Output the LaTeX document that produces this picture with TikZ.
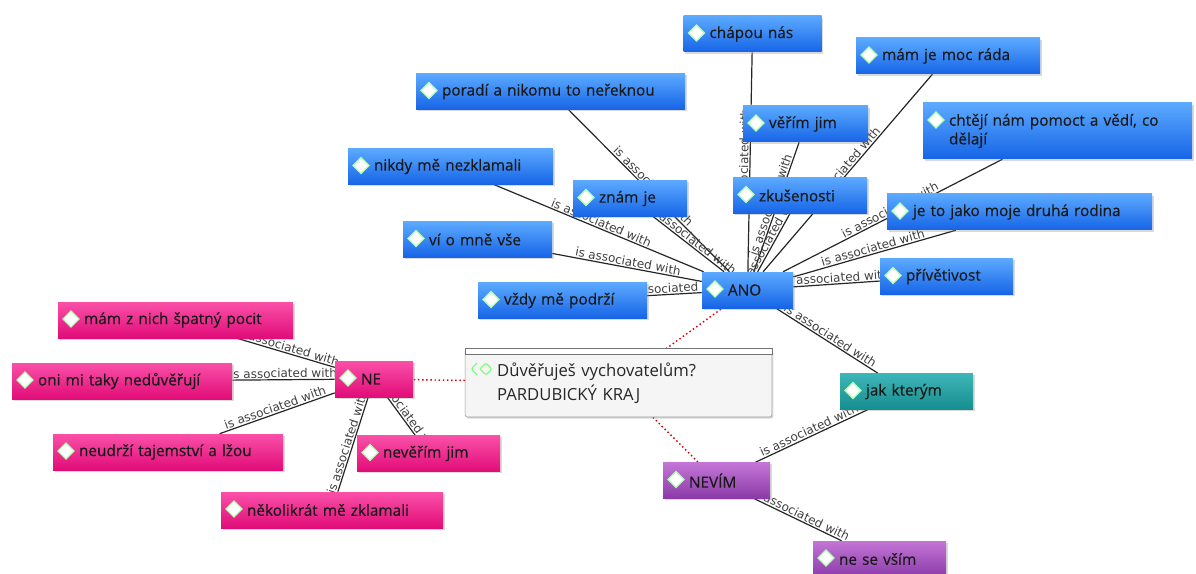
\documentclass[tikz,border=0pt]{standalone}
\usepackage{fontspec}
\setmainfont{Open Sans}
\newfontfamily\codefont{Open Sans}[FakeBold=0.4]
\newfontfamily\linkfont{DejaVu Sans}
\usetikzlibrary{backgrounds,shadows}

\definecolor{anotop}{RGB}{92,170,255}
\definecolor{anobot}{RGB}{22,100,230}
\definecolor{netop}{RGB}{250,80,168}
\definecolor{nebot}{RGB}{225,12,120}
\definecolor{jaktop}{RGB}{62,182,184}
\definecolor{jakbot}{RGB}{22,142,144}
\definecolor{nevimtop}{RGB}{196,118,214}
\definecolor{nevimbot}{RGB}{138,58,168}

\tikzset{
	codebox/.style={rectangle, inner xsep=19.5pt, inner ysep=2pt, minimum height=27pt,
		align=left, text width=#1, font=\codefont\fontsize{11.5}{14}\selectfont, text=black!90,
		drop shadow={opacity=0.3, shadow xshift=1.2pt, shadow yshift=-1.2pt},
		path picture={\draw[fill=white, draw=green!30!white, line width=0.9pt]
			([xshift=9.75pt,yshift=-12.75pt]path picture bounding box.north west)
			+(-6pt,0pt) -- +(0pt,6pt) -- +(6pt,0pt) -- +(0pt,-6pt) -- cycle;}},
	anobox/.style={codebox=#1, top color=anotop, bottom color=anobot},
	nebox/.style={codebox=#1, top color=netop, bottom color=nebot},
	jakbox/.style={codebox=#1, top color=jaktop, bottom color=jakbot},
	nevimbox/.style={codebox=#1, top color=nevimtop, bottom color=nevimbot},
	quotebox/.style={rectangle, draw=black!40, fill=black!4, rounded corners=1.5pt,
		inner xsep=24pt, inner ysep=4pt, minimum height=51pt, text width=182pt,
		align=left, font=\fontsize{12.5}{18}\selectfont, text=black!85,
		drop shadow={opacity=0.3, shadow xshift=1.2pt, shadow yshift=-1.2pt},
		path picture={\draw[draw=green!55!white, line width=0.8pt]
			([xshift=11pt,yshift=-15pt]path picture bounding box.north west)
			+(-2pt,-4.5pt) -- +(-6.5pt,0pt) -- +(-2pt,4.5pt)
			+(0pt,0pt) -- +(4.5pt,4.5pt) -- +(9pt,0pt) -- +(4.5pt,-4.5pt) -- cycle;}},
	assoc/.style={draw=black!85, line width=0.9pt},
	assoclabel/.style={sloped, above, inner sep=0.8pt, text=black!75,
		font=\linkfont\fontsize{9}{10}\selectfont},
	dotlink/.style={draw=red!85!black, dotted, line width=1.1pt}
}

\begin{document}
\begin{tikzpicture}[x=0.75pt, y=-0.75pt]
	\useasboundingbox (0,0) rectangle (1196,574);

	% ANO
	\node[anobox=29.25pt]	(ano)			at (747.5,290)		{ANO};
	\node[anobox=64.5pt]	(chapou)		at (752.5,34)		{chápou nás};
	\node[anobox=162.75pt]	(poradi)		at (550.5,91.5)		{poradí a nikomu to neřeknou};
	\node[anobox=99pt]		(mam)			at (948,56)			{mám je moc ráda};
	\node[anobox=54.75pt]	(verim)			at (805.5,124)		{věřím jim};
	\node[anobox=162.75pt, minimum height=42pt]
							(chteji)		at (1057.5,131)		{chtějí nám pomoct a vědí, co\\dělají};
	\node[anobox=114.75pt]	(nikdy)			at (450.5,166.5)	{nikdy mě nezklamali};
	\node[anobox=46.5pt]	(znam)			at (630,198.5)		{znám je};
	\node[anobox=61.5pt]	(zkusenosti)	at (800,195.5)		{zkušenosti};
	\node[anobox=159.75pt]	(rodina)		at (1019.5,212)		{je to jako moje druhá rodina};
	\node[anobox=72.75pt]	(vi)			at (477.5,239.5)	{ví o mně vše};
	\node[anobox=87.75pt]	(vzdy)			at (562.5,300.5)	{vždy mě podrží};
	\node[anobox=60.75pt]	(privetivost)	at (946.5,276.5)	{přívětivost};

	% NE
	\node[nebox=19.5pt]		(ne)			at (374,379)		{NE};
	\node[nebox=137.25pt]	(pocit)			at (175.5,320)		{mám z nich špatný pocit};
	\node[nebox=126pt]		(oni)			at (122,381)		{oni mi taky nedůvěřují};
	\node[nebox=133.5pt]	(lzou)			at (168,452)		{neudrží tajemství a lžou};
	\node[nebox=68.25pt]	(neverim)		at (428.5,453.5)	{nevěřím jim};
	\node[nebox=127.5pt]	(zklamali)		at (332,510)		{několikrát mě zklamali};

	% NEVIM
	\node[jakbox=60.75pt]	(jak)			at (906.5,391.5)	{jak kterým};
	\node[nevimbox=41.25pt]	(nevim)			at (716.5,480.5)	{NEVÍM};
	\node[nevimbox=60.75pt]	(vsim)			at (879.5,559)		{ne se vším};

	% otazka
	\node[quotebox]			(quest)			at (618.5,383)		{Důvěřuješ vychovatelům?\\PARDUBICKÝ KRAJ};
	\draw[fill=white, draw=black!55] (quest.north west) rectangle ([yshift=-4.5pt]quest.north east);

	\begin{scope}[on background layer]
	\path
		(ano) edge[assoc]	node[assoclabel]	{is associated with}	(chapou)
		(ano) edge[assoc]	node[assoclabel]	{is associated with}	(poradi)
		(ano) edge[assoc]	node[assoclabel]	{is associated with}	(mam)
		(ano) edge[assoc]	node[assoclabel]	{is associated with}	(verim)
		(ano) edge[assoc]	node[assoclabel]	{is associated with}	(chteji)
		(ano) edge[assoc]	node[assoclabel]	{is associated with}	(nikdy)
		(ano) edge[assoc]	node[assoclabel]	{is associated with}	(znam)
		(ano) edge[assoc]	node[assoclabel]	{is associated with}	(zkusenosti)
		(ano) edge[assoc]	node[assoclabel]	{is associated with}	(rodina)
		(ano) edge[assoc]	node[assoclabel]	{is associated with}	(vi)
		(ano) edge[assoc]	node[assoclabel]	{is associated with}	(vzdy)
		(ano) edge[assoc]	node[assoclabel]	{is associated with}	(privetivost)
		(ano) edge[assoc]	node[assoclabel]	{is associated with}	(jak)
		(ne) edge[assoc]	node[assoclabel]	{is associated with}	(pocit)
		(ne) edge[assoc]	node[assoclabel]	{is associated with}	(oni)
		(ne) edge[assoc]	node[assoclabel]	{is associated with}	(lzou)
		(ne) edge[assoc]	node[assoclabel]	{is associated with}	(neverim)
		(ne) edge[assoc]	node[assoclabel]	{is associated with}	(zklamali)
		(nevim) edge[assoc]	node[assoclabel]	{is associated with}	(jak)
		(nevim) edge[assoc]	node[assoclabel]	{is associated with}	(vsim)
		(quest) edge[dotlink]	(ano)
		(quest) edge[dotlink]	(ne)
		(quest) edge[dotlink]	(nevim)
		;
	\end{scope}
\end{tikzpicture}
\end{document}
